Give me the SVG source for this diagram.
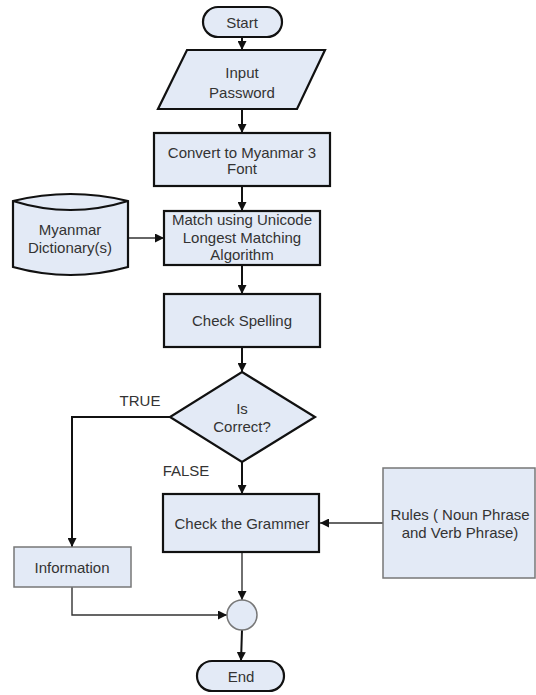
<svg xmlns="http://www.w3.org/2000/svg" width="536" height="695" viewBox="0 0 536 695">
<style>
.bg{fill:#ffffff}
.n{fill:#E3EAF6;stroke:#111;stroke-width:2.2}
.g{fill:#E3EAF6;stroke:#777;stroke-width:1.5}
.arc{fill:none;stroke:#111;stroke-width:2.2}
.t{font-family:"Liberation Sans",Arial,sans-serif;font-size:15px;fill:#333;text-anchor:middle;dominant-baseline:central}
.c{fill:none;stroke:#111;stroke-width:2}
.c2{fill:none;stroke:#333;stroke-width:1.4}
</style>
<defs>
<marker id="ah" viewBox="0 0 10 10" refX="10" refY="5" markerWidth="9" markerHeight="9" markerUnits="userSpaceOnUse" orient="auto">
<path d="M0,0 L10,5 L0,10 Z" fill="#111"/>
</marker>
</defs>
<rect class="bg" x="0" y="0" width="536" height="695"/>
<g id="connectors">
<line class="c" x1="242" y1="37" x2="242" y2="50" marker-end="url(#ah)"/>
<line class="c" x1="242" y1="109" x2="242" y2="133" marker-end="url(#ah)"/>
<line class="c" x1="242" y1="186" x2="242" y2="211" marker-end="url(#ah)"/>
<line class="c2" x1="128" y1="238" x2="164" y2="238" marker-end="url(#ah)"/>
<line class="c" x1="242" y1="265" x2="242" y2="294" marker-end="url(#ah)"/>
<line class="c" x1="242" y1="347" x2="242" y2="372" marker-end="url(#ah)"/>
<polyline class="c" points="170,417 72,417 72,547" marker-end="url(#ah)"/>
<line class="c" x1="242" y1="462" x2="242" y2="494" marker-end="url(#ah)"/>
<line class="c2" x1="383" y1="523" x2="320" y2="523" marker-end="url(#ah)"/>
<line class="c2" x1="242" y1="552" x2="242" y2="600" marker-end="url(#ah)"/>
<polyline class="c2" points="72,587 72,615 227,615" marker-end="url(#ah)"/>
<line class="c" x1="242" y1="630" x2="241" y2="661" marker-end="url(#ah)"/>
<text class="t" x="140" y="400">TRUE</text>
<text class="t" x="186" y="470">FALSE</text>
</g>
<g id="start">
<rect class="n" x="203" y="7" width="79" height="30" rx="15"/>
<text class="t" x="242" y="22">Start</text>
</g>
<g id="input">
<polygon class="n" points="187,50 325,50 297,109 158,109"/>
<text class="t" x="242" y="72">Input</text>
<text class="t" x="242" y="92">Password</text>
</g>
<g id="convert">
<rect class="n" x="154" y="133" width="176" height="53"/>
<text class="t" x="242" y="152">Convert to Myanmar 3</text>
<text class="t" x="242" y="168">Font</text>
</g>
<g id="dictionary">
<path class="n" d="M13,201 Q70.5,187 128,201 L128,267 Q70.5,283 13,267 Z"/>
<path class="arc" d="M13,201 Q70.5,219 128,201"/>
<text class="t" x="70" y="229">Myanmar</text>
<text class="t" x="70" y="247">Dictionary(s)</text>
</g>
<g id="match">
<rect class="n" x="164" y="211" width="156" height="54"/>
<text class="t" x="242" y="219">Match using Unicode</text>
<text class="t" x="242" y="237">Longest Matching</text>
<text class="t" x="242" y="254">Algorithm</text>
</g>
<g id="spelling">
<rect class="n" x="164" y="294" width="156" height="53"/>
<text class="t" x="242" y="320">Check Spelling</text>
</g>
<g id="decision">
<polygon class="n" points="242,372 315,417 242,462 170,417"/>
<text class="t" x="242" y="408">Is</text>
<text class="t" x="242" y="426">Correct?</text>
</g>
<g id="grammar">
<rect class="n" x="163" y="494" width="156" height="58"/>
<text class="t" x="242" y="523">Check the Grammer</text>
</g>
<g id="rules">
<rect class="g" x="383" y="468" width="152" height="110"/>
<text class="t" x="460" y="514">Rules ( Noun Phrase</text>
<text class="t" x="460" y="532">and Verb Phrase)</text>
</g>
<g id="information">
<rect class="g" x="14" y="547" width="117" height="40"/>
<text class="t" x="72" y="567">Information</text>
</g>
<g id="merge">
<circle class="g" cx="242" cy="615" r="15"/>
</g>
<g id="end">
<rect class="n" x="197" y="661" width="87" height="30" rx="15"/>
<text class="t" x="241" y="676">End</text>
</g>
</svg>
